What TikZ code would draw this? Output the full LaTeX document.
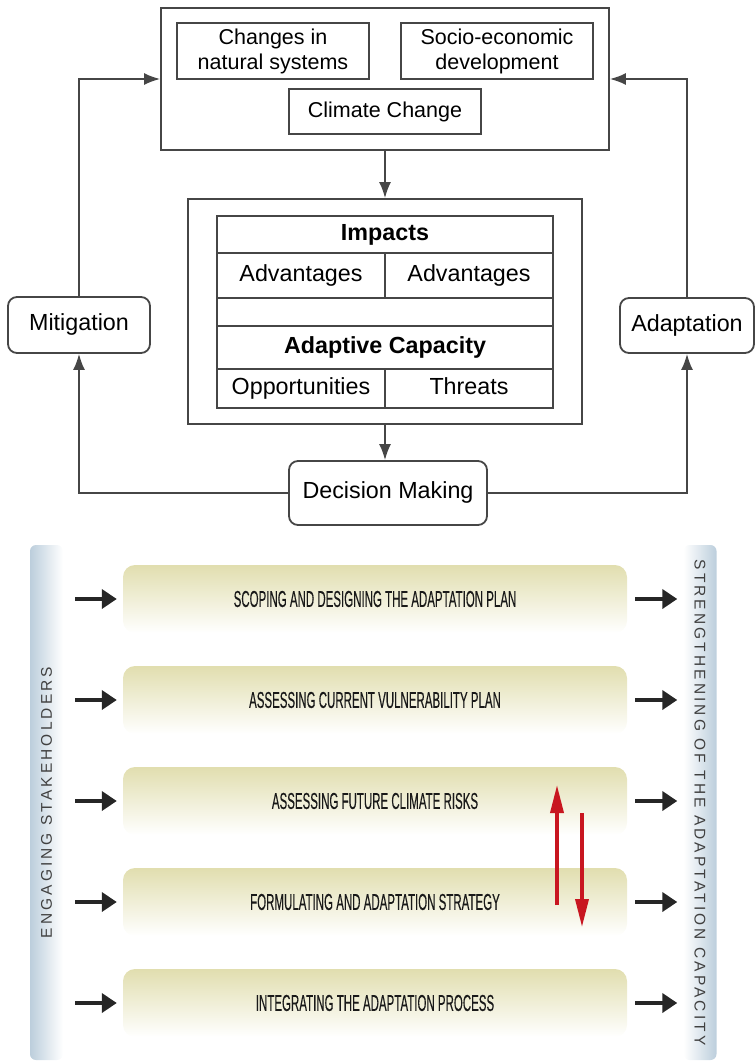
\documentclass[tikz,border=0pt]{standalone}
\usepackage{fontspec}
\setmainfont{Liberation Sans}
\newfontfamily\narrowfont[FakeStretch=0.5,FakeBold=0.2]{Liberation Sans}
\newfontfamily\spacedfont[LetterSpace=20]{Liberation Sans}
\usetikzlibrary{arrows.meta,positioning}

\definecolor{linegray}{RGB}{70,70,70}
\definecolor{barcol}{RGB}{225,222,175}
\definecolor{sidecol}{RGB}{188,206,220}
\definecolor{arrred}{RGB}{200,22,32}

\tikzset{
  plainbox/.style={draw=linegray, line width=1.8pt, inner sep=0pt, align=center,
    font=\fontsize{21.5}{25}\selectfont},
  cell/.style={plainbox, text height=16pt, text depth=5pt, font=\fontsize{23.3}{27}\selectfont},
  headcell/.style={cell, font=\fontsize{23.3}{27}\selectfont\bfseries},
  roundbox/.style={cell, rounded corners=9pt},
  arr/.style={draw=linegray, line width=1.8pt, -{Latex[length=16pt,width=12pt]}},
  sidebar/.style={minimum width=33pt, minimum height=515pt, rounded corners=6pt, inner sep=0pt},
  sidetext/.style={font=\spacedfont\fontsize{15.5}{18}\selectfont, text=black!75},
  stepbar/.style={minimum width=504pt, minimum height=68pt, rounded corners=12pt,
    top color=barcol, bottom color=white, inner sep=0pt,
    font=\narrowfont\fontsize{23}{27}\selectfont, text=black!90},
  blkarr/.style={draw=black!85, line width=4.5pt, -{Triangle[length=15pt,width=19pt]}},
  redarr/.style={draw=arrred, line width=3.5pt, -{Triangle[length=28pt,width=13pt]}}
}

\begin{document}
\begin{tikzpicture}[x=1pt,y=-1pt]
  \useasboundingbox (0,0) rectangle (755,1061);

  % drivers
  \node[plainbox, minimum width=448pt, minimum height=142pt] (drivers) at (385,79) {};
  \node[plainbox, minimum width=192pt, minimum height=56pt] (natsys) at (273,51) {Changes in\\natural systems};
  \node[plainbox, minimum width=192pt, minimum height=56pt] (socio) at (497,51) {Socio-economic\\development};
  \node[plainbox, minimum width=192pt, minimum height=45pt] (climate) at (385,111.5) {Climate Change};

  % assessment table
  \node[plainbox, minimum width=394pt, minimum height=225pt] (assess) at (385,311.5) {};
  \node[headcell, minimum width=336pt, minimum height=37pt] (impacts) at (385,234.5) {Impacts};
  \node[cell, minimum width=168pt, minimum height=45pt] (advleft) at (301,275.5) {Advantages};
  \node[cell, minimum width=168pt, minimum height=45pt] (advright) at (469,275.5) {Advantages};
  \node[plainbox, minimum width=336pt, minimum height=28pt] (gap) at (385,312) {};
  \node[headcell, minimum width=336pt, minimum height=43pt] (adcap) at (385,347.5) {Adaptive Capacity};
  \node[cell, minimum width=168pt, minimum height=39pt] (opps) at (301,388.5) {Opportunities};
  \node[cell, minimum width=168pt, minimum height=39pt] (threats) at (469,388.5) {Threats};

  \node[roundbox, minimum width=142pt, minimum height=56pt] (mitig) at (79,325) {Mitigation};
  \node[roundbox, minimum width=134pt, minimum height=55pt] (adapt) at (687,325.5) {Adaptation};
  \node[roundbox, minimum width=198pt, minimum height=64pt] (decide) at (388,493) {Decision Making};

  \draw[arr] (drivers.south) -- (assess.north);
  \draw[arr] (assess.south) -- (assess.south |- decide.north);
  \draw[arr] (mitig.north) |- (drivers.west);
  \draw[arr] (adapt.north) |- (drivers.east);
  \draw[arr] (decide.west) -| (mitig.south);
  \draw[arr] (decide.east) -| (adapt.south);

  % planning steps
  \node[sidebar, left color=sidecol, right color=white] (engage) at (46.5,802.5) {};
  \node[sidetext, rotate=90] (engagetxt) at (engage) {ENGAGING STAKEHOLDERS};
  \node[sidebar, left color=white, right color=sidecol] (strength) at (700,802.5) {};
  \node[sidetext, rotate=-90] (strengthtxt) at (strength) {STRENGTHENING OF THE ADAPTATION CAPACITY};

  \foreach \lbl [count=\i] in {SCOPING AND DESIGNING THE ADAPTATION PLAN,
      ASSESSING CURRENT VULNERABILITY PLAN, ASSESSING FUTURE CLIMATE RISKS,
      FORMULATING AND ADAPTATION STRATEGY, INTEGRATING THE ADAPTATION PROCESS} {
    \pgfmathsetmacro\ymid{565+101*(\i-1)+34}
    \node[stepbar] (bar\i) at (375,\ymid) {\lbl};
    \draw[blkarr, shorten <=12pt, shorten >=6pt] (engage.east |- bar\i.center) -- (bar\i.west);
    \draw[blkarr, shorten <=8pt, shorten >=6pt] (bar\i.east) -- (strength.west |- bar\i.center);
  }

  % iteration between risks and strategy
  \coordinate (upstart) at (557,905);
  \coordinate (upend) at (557,785);
  \coordinate (downstart) at (582,813);
  \coordinate (downend) at (582,927);
  \draw[redarr] (upstart) -- (upend);
  \draw[redarr] (downstart) -- (downend);
\end{tikzpicture}
\end{document}
